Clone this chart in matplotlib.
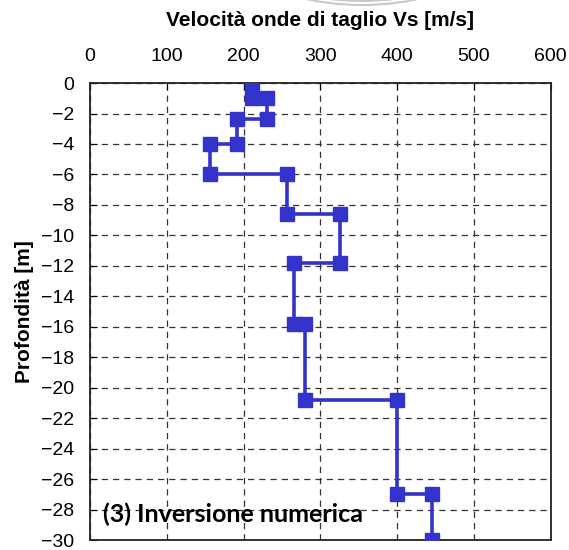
import matplotlib
matplotlib.use('Agg')
from matplotlib import pyplot as plt
from matplotlib.patches import Arc

# Vs profile (step)
vs = [211, 211, 231, 231, 191, 191, 156, 156, 256, 256, 326, 326,
      266, 266, 280, 280, 400, 400, 445, 445]
depth = [0, -1.0, -1.0, -2.35, -2.35, -4.0, -4.0, -6.0, -6.0, -8.6, -8.6, -11.8,
         -11.8, -15.8, -15.8, -20.8, -20.8, -27.0, -27.0, -30.0]

x_ticks = [0, 100, 200, 300, 400, 500, 600]
y_ticks = list(range(0, -31, -2))

plt.rcParams['font.family'] = ['Liberation Sans', 'DejaVu Sans']

fig = plt.figure(figsize=(5.69, 5.5), dpi=100)
ax = fig.add_axes([0.158, 0.018, 0.810, 0.831])

# faint watermark circle peeking in at the top
for r in (268, 264):
    fig.add_artist(Arc((362, 813), 2 * r, 2 * r, theta1=240, theta2=300,
                       transform=None, color='#c8c8c8', lw=1.5))

ax.plot(vs, depth, color='#3333cc', lw=2.6, marker='s', ms=10,
        markeredgecolor='#3333cc', zorder=3)

ax.set_xlim(0, 600)
ax.set_ylim(-30, 0)
ax.set_xticks(x_ticks)
ax.set_yticks(y_ticks)
ax.xaxis.tick_top()
ax.xaxis.set_label_position('top')
ax.tick_params(axis='both', direction='in', length=5, labelsize=14)
ax.tick_params(axis='x', pad=13)
ax.tick_params(axis='y', pad=11)

ax.grid(True, color='#333333', linestyle=(0, (5, 4)), lw=0.9)
for s in ax.spines.values():
    s.set_linewidth(1.3)
    s.set_color('#222222')

ax.set_xlabel('Velocità onde di taglio Vs [m/s]', fontsize=15, fontweight='bold', labelpad=16)
ax.set_ylabel('Profondità [m]', fontsize=15, fontweight='bold', labelpad=5)

ax.text(17, -28.3, '(3) Inversione numerica', fontsize=18, fontweight='bold',
        family=['Lato', 'DejaVu Sans'], va='center', ha='left', zorder=4)

fig.savefig('out.png', dpi=100)
